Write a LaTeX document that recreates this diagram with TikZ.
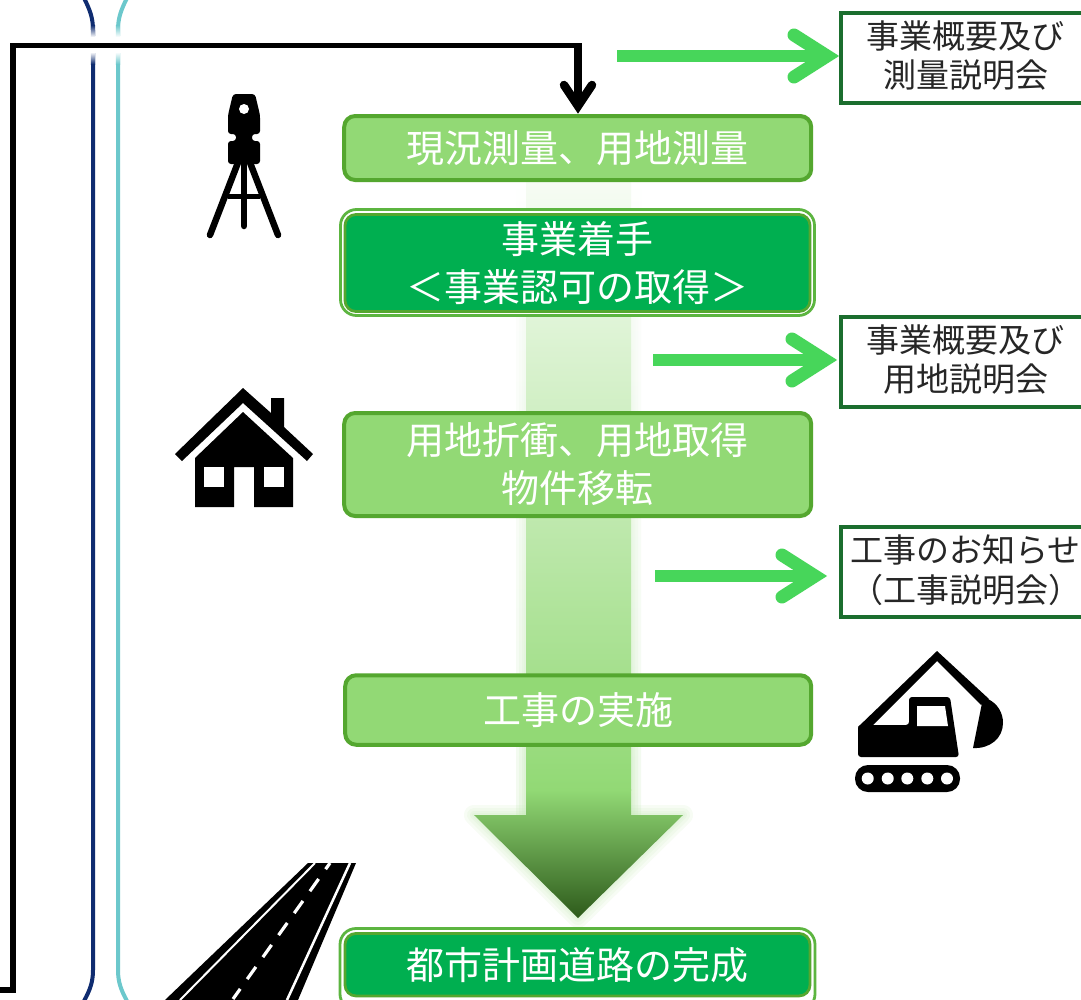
\documentclass[tikz,border=0pt]{standalone}
\usepackage{fontspec}
\setmainfont{Noto Sans CJK JP}
\definecolor{navyl}{HTML}{0F2C70}
\definecolor{teall}{HTML}{6CC8CC}
\definecolor{lgfill}{HTML}{92D975}
\definecolor{lgedge}{HTML}{54A72F}
\definecolor{dgfill}{HTML}{00AF50}
\definecolor{outeredge}{HTML}{5CB540}
\definecolor{rbedge}{HTML}{1B6E2E}
\definecolor{garrowc}{HTML}{47D65A}
\definecolor{tipdark}{HTML}{2D5A1B}
\tikzset{
  lightbox/.style={draw=lgedge,fill=lgfill,line width=4pt,rounded corners=11pt,outer sep=0pt,inner sep=0pt,text=white,align=center,font=\fontsize{38}{48}\selectfont},
  darkbox/.style={draw=lgedge,fill=dgfill,line width=2.8pt,rounded corners=11pt,outer sep=0pt,inner sep=0pt,text=white,align=center,font=\fontsize{38}{48}\selectfont},
  doubleouter/.style={draw=outeredge,fill=white,line width=2.8pt,rounded corners=16pt},
  rightbox/.style={draw=rbedge,fill=white,line width=3.5pt,outer sep=0pt,inner sep=0pt,text=black!85,align=center,font=\fontsize{33}{37}\selectfont},
  greenline/.style={draw=garrowc,line width=12pt},
  greenhead/.style={draw=garrowc,line width=13pt,line cap=round,line join=miter,miter limit=10},
  blackline/.style={draw=black,line width=5.5pt,line join=miter},
  blackstem/.style={draw=black,line width=8pt},
  blackhead/.style={draw=black,line width=8.5pt,line cap=round,line join=miter,miter limit=10},
}
\newcommand{\rtwo}[2]{\raisebox{-2pt}[\height][\depth]{\begin{tabular}{@{}c@{}}#1\\#2\end{tabular}}}
\newcommand{\glowlayer}[1]{%
  \shade[top color=white,bottom color=lgfill!45,opacity=.25] (526-#1,182) rectangle (631+#1,815);
  \draw[lgfill!60,line width=2*#1,line join=round,opacity=.12] (474,815) -- (578,918) -- (683,815) -- cycle;}
\begin{document}
\begin{tikzpicture}[x=1pt,y=-1pt]
\useasboundingbox (0,0) rectangle (1081,999);
\fill[white] (0,0) rectangle (1081,999);

% brackets
\draw[navyl,line width=4pt] (84,-2) .. controls (90,10) and (93,18) .. (93,30) -- (93,970) .. controls (93,982) and (90,990) .. (84,1001);
\draw[teall,line width=4pt] (127,-2) .. controls (121,10) and (118,18) .. (118,30) -- (118,970) .. controls (118,982) and (121,990) .. (127,1001);
\fill[white] (90,36) rectangle (121,53);
\shade[top color=navyl,bottom color=white] (90.9,25) rectangle (95.1,37);
\shade[top color=white,bottom color=navyl] (90.9,52) rectangle (95.1,64);
\shade[top color=teall,bottom color=white] (115.9,25) rectangle (120.1,37);
\shade[top color=white,bottom color=teall] (115.9,52) rectangle (120.1,64);

% big gradient arrow
\glowlayer{10}\glowlayer{7}\glowlayer{4}\glowlayer{2}
\begin{scope}
  \clip (526,182) -- (526,815) -- (474,815) -- (578,918) -- (683,815) -- (631,815) -- (631,182) -- cycle;
  \shade[top color=lgfill!8,bottom color=lgfill] (450,182) rectangle (710,790);
  \shade[top color=lgfill,bottom color=tipdark] (450,789.5) rectangle (710,918);
\end{scope}

% boxes
\node[lightbox,minimum width=467pt,minimum height=64pt] (survey) at (577.7,148) {現況測量、用地測量};
\draw[doubleouter] (340.5,209.5) rectangle (814.5,315.5);
\node[darkbox,minimum width=465pt,minimum height=97pt] (start) at (577.5,263) {事業着手\\＜事業認可の取得＞};
\node[lightbox,minimum width=467pt,minimum height=103pt] (land) at (577.7,464.5) {用地折衝、用地取得\\物件移転};
\node[lightbox,minimum width=466pt,minimum height=69.5pt] (work) at (578.2,710) {工事の実施};
\draw[doubleouter] (340,928.5) rectangle (815,1010);
\node[darkbox,minimum width=465pt,minimum height=62.5pt] (done) at (577.5,964.7) {都市計画道路の完成};

\node[rightbox,minimum width=249pt,minimum height=90pt] (r1) at (965.5,58) {\rtwo{事業概要及び}{測量説明会}};
\node[rightbox,minimum width=249pt,minimum height=90pt] (r2) at (965.5,362) {\rtwo{事業概要及び}{用地説明会}};
\node[rightbox,minimum width=249pt,minimum height=90pt] (r3) at (965.5,572) {\rtwo{工事のお知らせ}{（工事説明会）}};

% green arrows
\coordinate (g1s) at (617,56);
\coordinate (g2s) at (653,360);
\coordinate (g3s) at (655,576);
\coordinate (g1t) at (827,56);
\coordinate (g2t) at (825,360);
\coordinate (g3t) at (815,576);
\draw[greenline] (g1s) -- (g1t);
\draw[greenhead] ([shift={(-33,-21)}]g1t) -- (g1t) -- ([shift={(-33,21)}]g1t);
\draw[greenline] (g2s) -- (g2t);
\draw[greenhead] ([shift={(-33,-21)}]g2t) -- (g2t) -- ([shift={(-33,21)}]g2t);
\draw[greenline] (g3s) -- (g3t);
\draw[greenhead] ([shift={(-33,-21)}]g3t) -- (g3t) -- ([shift={(-33,21)}]g3t);

% black connector
\coordinate (bs) at (0,990);
\coordinate (bc1) at (13,990);
\coordinate (bc2) at (13,45.5);
\coordinate (bc3) at (578,45.5);
\coordinate (bt) at (578,106);
\draw[blackline] (bs) -- (bc1) -- (bc2) -- (bc3);
\draw[blackstem] (578,43) -- (bt);
\draw[blackhead] (564,85) -- (bt) -- (592,85);

% surveying instrument
\fill[black,rounded corners=3pt] (233,94) -- (255,94) -- (260,115) -- (260,134) -- (252,134) -- (252,141) -- (260,141) -- (260,164) -- (228,164) -- (228,141) -- (236,141) -- (236,134) -- (228,134) -- (228,115) -- cycle;
\fill[white] (244,109) circle (5);
\draw[black,line width=6.5pt,line cap=round] (239,160) -- (210,235);
\draw[black,line width=6.5pt,line cap=round] (249,160) -- (278,235);
\draw[black,line width=6.5pt,line cap=round] (244,160) -- (244,226);
\draw[black,line width=5pt] (228,196) -- (260,196);

% house
\fill[black] (243,388) -- (175,454) -- (182,461) -- (243,403) -- (307,461) -- (313,454) -- (284,427) -- (284,398) -- (271,398) -- (271,413) -- cycle;
\fill[black] (243,412) -- (195,458) -- (195,507) -- (234,507) -- (234,467) -- (254,467) -- (254,507) -- (293,507) -- (293,458) -- cycle;
\fill[white] (204,467) rectangle (224,487);
\fill[white] (264,467) rectangle (284,487);

% excavator
\fill[black] (858,727) -- (937,651) -- (989,699) -- (981,705) -- (937,661) -- (872,726) -- (870,732) -- cycle;
\fill[black,rounded corners=3pt] (858,725) -- (909,725) -- (909,697) -- (950,697) -- (959,757) -- (858,757) -- cycle;
\fill[white] (917,706) -- (945,706) -- (948,726) -- (917,726) -- cycle;
\fill[black] (982,703) -- (988,699) .. controls (998,704) and (1003,713) .. (1003,723) .. controls (1003,738) and (990,749) .. (973,748) -- cycle;
\fill[black,rounded corners=13pt] (855,765) rectangle (960,792);
\foreach \cx in {867.7,887.7,907.3,927.3,947}{\fill[white] (\cx,778.5) circle (6);}

% road
\fill[black] (308,863) -- (356,863) -- (298,1000) -- (165,1000) -- cycle;
\draw[white,line width=2pt] (315,863) -- (180,1000);
\draw[white,line width=2.5pt] (350,863) -- (287,1000);
\draw[white,line width=3.2pt,dash pattern=on 15pt off 12pt,dash phase=7.4pt] (330,863) -- (233,999);
\end{tikzpicture}
\end{document}
